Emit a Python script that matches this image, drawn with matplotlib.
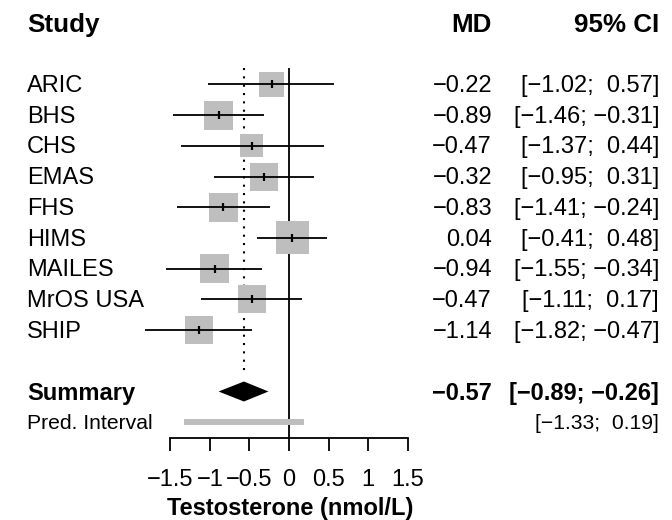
import matplotlib
matplotlib.use("Agg")
import matplotlib.pyplot as plt
from matplotlib.transforms import blended_transform_factory

# ---------------- data ----------------
studies = ["ARIC", "BHS", "CHS", "EMAS", "FHS", "HIMS", "MAILES", "MrOS USA", "SHIP"]
md = [-0.22, -0.89, -0.47, -0.32, -0.83, 0.04, -0.94, -0.47, -1.14]
ci_lo = [-1.02, -1.46, -1.37, -0.95, -1.41, -0.41, -1.55, -1.11, -1.82]
ci_hi = [0.57, -0.31, 0.44, 0.31, -0.24, 0.48, -0.34, 0.17, -0.47]
square_px = [25, 29, 23, 28, 29, 33, 29, 28, 28]   # weight-driven square sizes
summary_md = -0.57
summary_lo, summary_hi = -0.89, -0.26
pred_lo, pred_hi = -1.33, 0.19
xticks = [-1.5, -1.0, -0.5, 0.0, 0.5, 1.0, 1.5]
xticklabels = ["\u22121.5", "\u22121", "\u22120.5", "0", "0.5", "1", "1.5"]
xlabel = "Testosterone (nmol/L)"

# ---------------- layout ----------------
W, H = 672, 520
DPI = 100
plt.rcParams["font.family"] = ["Liberation Sans", "DejaVu Sans"]
FS = 17
FS_HEAD = 18.7
FS_PRED = 15.2

fig = plt.figure(figsize=(W / DPI, H / DPI), dpi=DPI)
axis_px = 438.0
ax = fig.add_axes([0, (H - axis_px) / H, 1, axis_px / H])
x0px = 289.0
ppu = 79.13
row0 = 84.5
rowh = 30.7
ax.set_xlim(-x0px / ppu, (W - x0px) / ppu)
ax.set_ylim((axis_px - row0) / rowh, (0 - row0) / rowh)
ax.patch.set_alpha(0)

rows = list(range(len(studies)))
r_sum = len(studies) + 1
r_pred = len(studies) + 2
r_head = -2

gray = "#BEBEBE"

# squares
pt_per_px = 72.0 / DPI
ax.scatter(md, rows, s=[(p * pt_per_px) ** 2 for p in square_px], marker="s",
           color=gray, edgecolors="none", zorder=2)
# CI lines
ax.hlines(rows, ci_lo, ci_hi, color="black", lw=1.3, zorder=3)
# estimate ticks
ax.scatter(md, rows, s=(8 * pt_per_px) ** 2, marker="|", color="black",
           linewidths=1.6, zorder=4)

# reference lines
ax.vlines(0, -0.54, (axis_px - row0) / rowh, color="black", lw=1.3, zorder=1)
ax.vlines(summary_md, -0.54, r_sum - 0.5, color="black", lw=1.5,
          linestyles=(0, (1, 3)), zorder=1)

# summary diamond
dh = 10.0 / rowh
ax.fill([summary_lo, summary_md, summary_hi, summary_md],
        [r_sum, r_sum - dh, r_sum, r_sum + dh], color="black", lw=0, zorder=3)

# prediction interval
ax.barh(r_pred, pred_hi - pred_lo, left=pred_lo, height=6.5 / rowh,
        color=gray, zorder=2)

# axis
for s in ["top", "left", "right"]:
    ax.spines[s].set_visible(False)
ax.spines["bottom"].set_bounds(xticks[0], xticks[-1])
ax.spines["bottom"].set_linewidth(1.3)
ax.set_yticks([])
ax.set_xticks(xticks)
ax.set_xticklabels(xticklabels, fontsize=FS)
ax.tick_params(axis="x", length=12.5 * pt_per_px, width=1.3, pad=13, direction="out")

# x label
tr_lab = blended_transform_factory(ax.transData, fig.transFigure)
ax.text(0.02, 1 - 508 / H, xlabel, transform=tr_lab, ha="center", va="center",
        fontsize=FS, fontweight="bold")

# ---------------- text columns ----------------
tr = blended_transform_factory(fig.transFigure, ax.transData)
x_lab = 27 / W
x_md = 492 / W
x_ci = 659 / W
dy = 0.05  # small vertical nudge of text relative to marks (rows)


def fnum(v):
    return f"{v:.2f}".replace("-", "\u2212")


def fci(lo, hi):
    a = fnum(lo) if lo < 0 else " " + fnum(lo)
    b = fnum(hi) if hi < 0 else " " + fnum(hi)
    return f"[{a}; {b}]"


kwh = dict(transform=tr, va="center", fontsize=FS_HEAD, fontweight="bold")
ax.text(x_lab, r_head + dy, "Study", ha="left", **kwh)
ax.text(x_md, r_head + dy, "MD", ha="right", **kwh)
ax.text(x_ci, r_head + dy, "95% CI", ha="right", **kwh)

kw = dict(transform=tr, va="center", fontsize=FS)
for r, name, m, lo, hi in zip(rows, studies, md, ci_lo, ci_hi):
    ax.text(x_lab, r + dy, name, ha="left", **kw)
    ax.text(x_md, r + dy, fnum(m), ha="right", **kw)
    ax.text(x_ci, r + dy, fci(lo, hi), ha="right", **kw)

ax.text(x_lab, r_sum + dy, "Summary", ha="left", fontweight="bold", **kw)
ax.text(x_md, r_sum + dy, fnum(summary_md), ha="right", fontweight="bold", **kw)
ax.text(x_ci, r_sum + dy, fci(summary_lo, summary_hi), ha="right", fontweight="bold", **kw)

kwp = dict(transform=tr, va="center", fontsize=FS_PRED)
ax.text(x_lab, r_pred + dy, "Pred. Interval", ha="left", **kwp)
ax.text(x_ci, r_pred + dy, fci(pred_lo, pred_hi), ha="right", **kwp)

fig.savefig("out.png", dpi=DPI)
